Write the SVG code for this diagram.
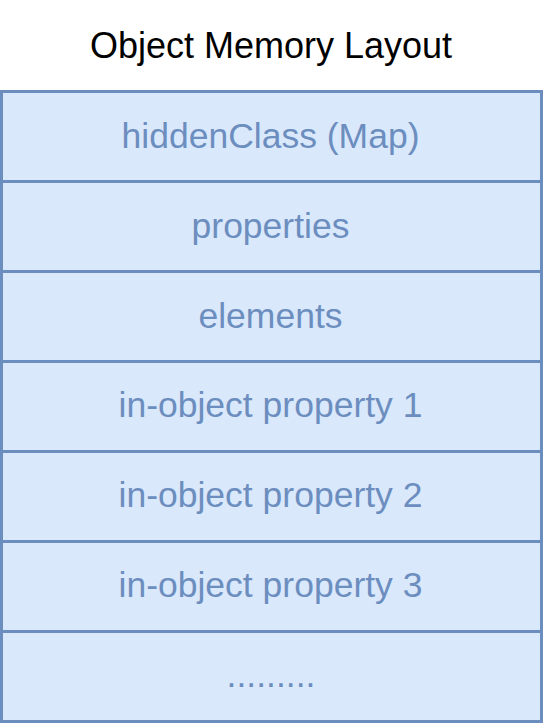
<svg xmlns="http://www.w3.org/2000/svg" width="546" height="723" viewBox="0 0 546 723">
<style>
.cell{fill:#dae8fc;stroke:#6c8ebf;stroke-width:3}
.lbl{font-family:"Liberation Sans",Arial,sans-serif;font-size:35.5px;fill:#6c8ebf;text-anchor:middle}
.title{font-family:"Liberation Sans",Arial,sans-serif;font-size:36px;fill:#000000;text-anchor:middle}
</style>
<rect width="546" height="723" fill="#ffffff"/>
<g id="title"><text class="title" x="271" y="57.5">Object Memory Layout</text></g>
<g id="hiddenClass"><rect class="cell" x="1.5" y="91.5" width="540" height="90"/><text class="lbl" x="270.5" y="147.5">hiddenClass (Map)</text></g>
<g id="properties"><rect class="cell" x="1.5" y="181.5" width="540" height="90"/><text class="lbl" x="270.5" y="237.5">properties</text></g>
<g id="elements"><rect class="cell" x="1.5" y="271.5" width="540" height="90"/><text class="lbl" x="270.5" y="327.5">elements</text></g>
<g id="prop1"><rect class="cell" x="1.5" y="361.5" width="540" height="90"/><text class="lbl" x="270.5" y="417">in-object property 1</text></g>
<g id="prop2"><rect class="cell" x="1.5" y="451.5" width="540" height="90"/><text class="lbl" x="270.5" y="507">in-object property 2</text></g>
<g id="prop3"><rect class="cell" x="1.5" y="541.5" width="540" height="90"/><text class="lbl" x="270.5" y="597">in-object property 3</text></g>
<g id="more"><rect class="cell" x="1.5" y="631.5" width="540" height="90"/><text class="lbl" x="271" y="687">.........</text></g>
<g id="connectors"></g>
</svg>
